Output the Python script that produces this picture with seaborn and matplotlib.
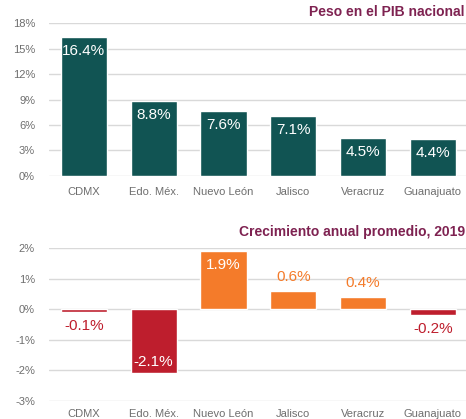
import numpy as np
import pandas as pd
import seaborn as sns
import matplotlib.pyplot as plt
from matplotlib.ticker import FuncFormatter

# data
states = ['CDMX', 'Edo. Méx.', 'Nuevo León', 'Jalisco', 'Veracruz', 'Guanajuato']
pib_share = [16.4, 8.8, 7.6, 7.1, 4.5, 4.4]
growth = [-0.1, -2.1, 1.9, 0.6, 0.4, -0.2]
title_top = 'Peso en el PIB nacional'
title_bottom = 'Crecimiento anual promedio, 2019'

teal = '#115453'
orange = '#F47B2A'
red = '#BE1E2D'
maroon = '#7E2251'
grey_txt = '#6E6E6E'
grid_col = '#D9D9D9'

sns.set_theme(style='white')
plt.rcParams['font.family'] = ['Liberation Sans', 'DejaVu Sans']

fig = plt.figure(figsize=(4.66, 4.19), dpi=100)
ax1 = fig.add_axes([0.105, 0.58, 0.899, 0.365])
ax2 = fig.add_axes([0.105, 0.043, 0.899, 0.365])

pct = FuncFormatter(lambda v, p: f'{v:.0f}%')


def style_axis(ax, ticks, xpad):
    ax.set_yticks(ticks)
    ax.yaxis.set_major_formatter(pct)
    ax.grid(axis='y', color=grid_col, linewidth=1)
    ax.set_axisbelow(True)
    for s in ax.spines.values():
        s.set_visible(False)
    ax.tick_params(axis='both', length=0, labelsize=8, labelcolor=grey_txt)
    ax.tick_params(axis='y', pad=10)
    ax.tick_params(axis='x', pad=xpad)
    ax.set_xlabel('')
    ax.set_ylabel('')
    ax.set_xlim(-0.5, 5.5)


# top: share of national GDP
df1 = pd.DataFrame({'state': states, 'value': pib_share})
sns.barplot(data=df1, x='state', y='value', hue='state', palette=[teal] * 6,
            legend=False, width=0.66, saturation=1, ax=ax1)
ax1.set_ylim(0, 18)
style_axis(ax1, np.arange(0, 19, 3), 8)
for i, v in enumerate(pib_share):
    ax1.annotate(f'{v:.1f}%', (i, v), xytext=(0, -5), textcoords='offset points',
                 ha='center', va='top', color='white', fontsize=11)

# bottom: average annual growth
df2 = pd.DataFrame({'state': states, 'value': growth})
cols = [orange if v > 0 else red for v in growth]
sns.barplot(data=df2, x='state', y='value', hue='state', palette=cols,
            legend=False, width=0.66, saturation=1, ax=ax2)
ax2.set_ylim(-3, 2)
style_axis(ax2, np.arange(-3, 3, 1), 6)
for i, v in enumerate(growth):
    c = cols[i]
    if abs(v) >= 1:
        # label inside the bar
        off = -5 if v > 0 else 3
        va = 'top' if v > 0 else 'bottom'
        ax2.annotate(f'{v:.1f}%', (i, v), xytext=(0, off), textcoords='offset points',
                     ha='center', va=va, color='white', fontsize=11)
    else:
        off = 5 if v > 0 else -5
        va = 'bottom' if v > 0 else 'top'
        ax2.annotate(f'{v:.1f}%', (i, v), xytext=(0, off), textcoords='offset points',
                     ha='center', va=va, color=c, fontsize=11)

fig.text(0.997, 0.972, title_top, ha='right', va='center', color=maroon,
         fontsize=10, fontweight='bold')
fig.text(0.999, 0.447, title_bottom, ha='right', va='center', color=maroon,
         fontsize=10, fontweight='bold')

fig.savefig('out.png', dpi=100)
